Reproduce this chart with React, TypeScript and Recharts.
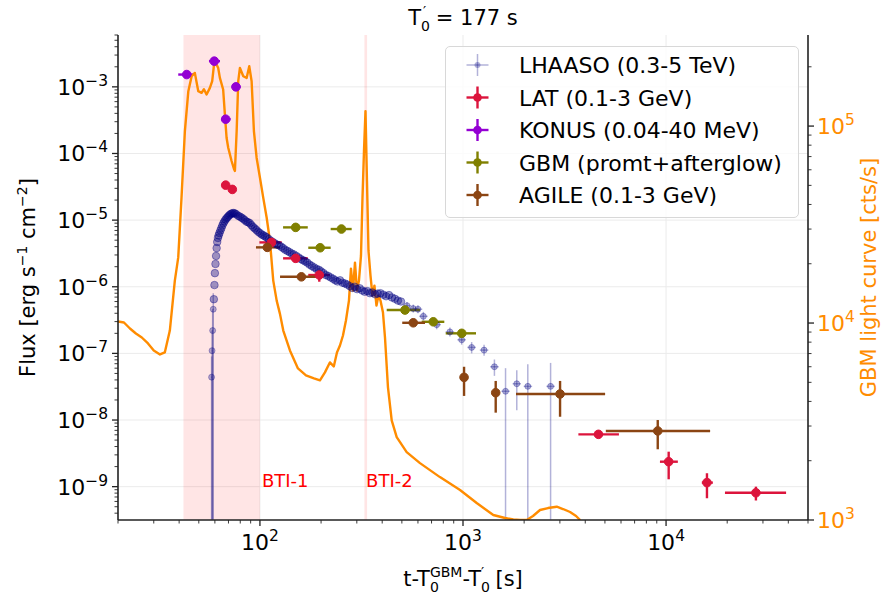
import React from 'react';
import {
  ComposedChart,
  Scatter,
  Line,
  XAxis,
  YAxis,
  ErrorBar,
  ReferenceArea,
  CartesianGrid,
  Legend,
} from 'recharts';

const FONT = "'DejaVu Sans', 'Liberation Sans', sans-serif";
const ORANGE = '#ff8c00';
const NAVY = '#000080';
const C_LAT = '#dc143c';
const C_KONUS = '#9400d3';
const C_GBM = '#808000';
const C_AGILE = '#8b4513';
const SPINE = '#222';

// lower flux bound used for bins whose lower error is unconstrained (bottom of the axis)
const NO_LOWER = 3.2e-10;

// ---------- LHAASO (0.3-5 TeV) ----------
// densely sampled bins (error bars smaller than the markers)
const lhaasoDenseT = [
  59.3, 59.7, 60.0, 60.4, 60.8, 61.2, 61.6, 62.1, 62.6, 63.2, 63.9, 64.6, 65.3, 66.1, 66.9, 67.7,
  68.6, 69.5, 70.4, 71.3, 72.3, 73.3, 74.3, 75.3, 76.5, 78.1, 79.6, 81.1, 82.6, 84.2, 85.8, 87.4,
  89.1, 90.8, 92.5, 94.3, 96.1, 98.0, 100, 102, 104, 106, 108, 110.5, 113, 115.5, 118, 121, 124,
  127, 130, 133, 136.5, 140, 143.5, 147, 151, 155, 159, 163, 167, 171, 175.5, 180, 185, 190, 195,
  200, 205.5, 211, 217, 223, 229, 235, 241, 248, 255, 262, 269, 277, 285, 293, 301, 310, 319, 328,
  338, 348, 358, 369, 380, 392, 405, 418, 432, 447, 462, 478, 495,
];
const lhaasoDenseF = [
  6.5e-7, 1.06e-6, 1.6e-6, 2.2e-6, 2.9e-6, 3.8e-6, 4.7e-6, 5.4e-6, 5.9e-6, 6.4e-6, 7.0e-6, 7.6e-6,
  8.3e-6, 9.0e-6, 9.6e-6, 1.02e-5, 1.07e-5, 1.12e-5, 1.17e-5, 1.21e-5, 1.25e-5, 1.27e-5, 1.28e-5,
  1.26e-5, 1.22e-5, 1.16e-5, 1.13e-5, 1.09e-5, 1.05e-5, 1.0e-5, 9.5e-6, 9.3e-6, 9.0e-6, 8.4e-6,
  7.9e-6, 7.5e-6, 7.1e-6, 6.7e-6, 6.4e-6, 6.1e-6, 5.9e-6, 5.7e-6, 5.5e-6, 5.2e-6, 4.9e-6, 4.7e-6,
  4.5e-6, 4.3e-6, 4.2e-6, 4.0e-6, 3.8e-6, 3.6e-6, 3.45e-6, 3.3e-6, 3.15e-6, 3.05e-6, 2.9e-6,
  2.75e-6, 2.6e-6, 2.5e-6, 2.4e-6, 2.3e-6, 2.15e-6, 2.05e-6, 1.95e-6, 1.85e-6, 1.8e-6, 1.7e-6,
  1.6e-6, 1.5e-6, 1.45e-6, 1.38e-6, 1.32e-6, 1.25e-6, 1.2e-6, 1.25e-6, 1.15e-6, 1.12e-6, 1.08e-6,
  1.02e-6, 9.6e-7, 1.0e-6, 9.2e-7, 9.5e-7, 8.8e-7, 8.4e-7, 8.6e-7, 8.0e-7, 8.2e-7, 7.7e-7, 7.9e-7,
  8.0e-7, 7.6e-7, 7.2e-7, 7.5e-7, 6.9e-7, 6.6e-7, 6.2e-7, 6.0e-7,
];
// bins with visible error bars
const lhaasoT = [57.8, 58.1, 58.5, 58.9, 530, 569, 600, 638, 742, 862, 985, 1103, 1270, 1428, 1620, 1840, 2085, 2700];
const lhaasoF = [4.4e-8, 1.1e-7, 2.2e-7, 4.6e-7, 5.2e-7, 4.7e-7, 4.6e-7, 3.6e-7, 2.7e-7, 2.1e-7, 1.6e-7, 1.23e-7, 1.12e-7, 6.3e-8, 2.7e-8, 3.5e-8, 3.2e-8, 3.2e-8];
const lhaasoFLo = [NO_LOWER, NO_LOWER, NO_LOWER, NO_LOWER, 4.6e-7, 4.1e-7, 4.0e-7, 3.1e-7, 2.3e-7, 1.8e-7, 1.35e-7, 1.0e-7, 9.2e-8, 4.6e-8, NO_LOWER, 1.4e-8, NO_LOWER, NO_LOWER];
const lhaasoFHi = [9e-8, 2.2e-7, 4.6e-7, 8e-7, 5.9e-7, 5.4e-7, 5.3e-7, 4.2e-7, 3.1e-7, 2.45e-7, 1.9e-7, 1.48e-7, 1.35e-7, 8.1e-8, 6e-8, 5.6e-8, 6.9e-8, 7.2e-8];
const lhaasoTLo = [57.6, 57.9, 58.3, 58.7, 505, 542, 572, 608, 707, 821, 938, 1050, 1210, 1360, 1545, 1755, 1990, 2575];
const lhaasoTHi = [58.0, 58.3, 58.7, 59.1, 556, 597, 630, 670, 779, 905, 1034, 1158, 1333, 1500, 1700, 1930, 2190, 2835];

// ---------- Fermi-LAT (0.1-3 GeV) ----------
const latT = [67.8, 73.1, 114, 150, 196, 4645, 10300, 15900, 27700];
const latF = [3.35e-5, 2.89e-5, 4.63e-6, 2.67e-6, 1.5e-6, 6.1e-9, 2.37e-9, 1.15e-9, 8.1e-10];
const latTLo = [67.8, 73.1, 99.4, 130, 173, 3700, 9330, 15000, 19500];
const latTHi = [67.8, 73.1, 128, 172, 221, 5860, 11430, 17000, 39000];
const latFLo = [3.15e-5, 2.72e-5, 4.3e-6, 2.45e-6, 1.19e-6, 5.6e-9, 1.29e-9, 6.7e-10, 6.2e-10];
const latFHi = [3.55e-5, 3.05e-5, 5.0e-6, 2.9e-6, 1.8e-6, 6.6e-9, 3.35e-9, 1.59e-9, 1.0e-9];

// ---------- Konus-Wind (0.04-40 MeV) ----------
const konusT = [43.6, 59.6, 67.8, 76.2];
const konusF = [1.53e-3, 2.43e-3, 3.27e-4, 1.0e-3];
const konusTLo = [39.6, 56.1, 64.3, 72.6];
const konusTHi = [46.9, 63.6, 71.7, 80.4];
const konusFLo = [1.4e-3, 2.2e-3, 2.95e-4, 0.91e-3];
const konusFHi = [1.67e-3, 2.65e-3, 3.6e-4, 1.1e-3];

// ---------- GBM (prompt + afterglow) ----------
const gbmT = [150, 198, 252, 518, 714, 986];
const gbmF = [7.78e-6, 3.85e-6, 7.35e-6, 4.47e-7, 2.98e-7, 2.0e-7];
const gbmTLo = [130, 173, 223, 421, 626, 822];
const gbmTHi = [172, 223, 283, 614, 809, 1159];
const gbmFLo = [7.4e-6, 3.65e-6, 7.0e-6, 4.25e-7, 2.83e-7, 1.9e-7];
const gbmFHi = [8.2e-6, 4.05e-6, 7.7e-6, 4.7e-7, 3.13e-7, 2.1e-7];

// ---------- AGILE (0.1-3 GeV) ----------
const agileT = [108.7, 160, 569, 1012, 1449, 3006, 9100];
const agileF = [3.9e-6, 1.41e-6, 2.88e-7, 4.37e-8, 2.57e-8, 2.46e-8, 6.86e-9];
const agileTLo = [95.6, 125.6, 502, 1000, 1440, 1824, 5050];
const agileTHi = [125.6, 205, 650, 1024, 1460, 5010, 16480];
const agileFLo = [3.7e-6, 1.35e-6, 2.7e-7, 2.3e-8, 1.29e-8, 1.12e-8, 3.64e-9];
const agileFHi = [4.1e-6, 1.48e-6, 3.05e-7, 6.3e-8, 3.86e-8, 3.86e-8, 1.0e-8];

// ---------- GBM light curve (right axis, cts/s) ----------
const lcT = [
  20.0, 21.4, 22.9, 24.5, 26.2, 28.1, 30.0, 32.2, 34.0, 36.0, 38.1, 39.6, 41.1, 42.7, 44.4, 46.1,
  47.8, 49.7, 51.6, 53.0, 54.6, 56.7, 58.2, 59.3, 60.7, 62.3, 63.5, 65.9, 67.2, 68.5, 69.8, 72.5,
  74.5, 75.3, 76.8, 78.2, 79.7, 82.8, 86.0, 88.6, 91.0, 93.4, 96.3, 100, 103.8, 107.9, 112.0, 116.3,
  120.9, 125.5, 130.3, 140.5, 153.9, 168.5, 184.5, 197.5, 209, 221, 231, 239.5, 247.8, 256.4, 265.2,
  274.4, 280.7, 287.2, 293.8, 300.5, 307.4, 314.5, 319.9, 325.4, 331, 336.6, 342.4, 350.3, 358.3,
  366.4, 374.9, 383.5, 392.3, 403.6, 412.9, 427.1, 445.5, 471.5, 528, 614, 770, 967, 1168, 1410,
  1610, 1770, 1910, 2060, 2212, 2395, 2622, 2894, 3108, 3366, 3604, 3772,
];
const lcC = [
  10180, 10060, 9380, 8850, 8445, 7875, 7260, 6925, 7090, 9160, 16420, 21540, 43350, 94340, 150400,
  179100, 186200, 150400, 147500, 153900, 144700, 156300, 169000, 201300, 209200, 197300, 175600,
  153400, 114600, 87280, 77660, 66500, 60580, 59180, 94340, 169000, 197300, 179100, 175600, 201300,
  169000, 94340, 69100, 54720, 43350, 34330, 26160, 16420, 13000, 11130, 9160, 7260, 5885, 5423,
  5236, 5116, 5617, 6310, 6022, 7090, 7693, 8647, 10300, 13000, 18880, 14610, 20250, 14610, 16420,
  21970, 42960, 74700, 119100, 52660, 23290, 17400, 13780, 15490, 12260, 13780, 13000, 11300, 8445,
  4715, 3208, 2633, 2210, 1944, 1651, 1419, 1219, 1060, 1024, 1006, 1000, 1000, 1048, 1124, 1150,
  1168, 1137, 1098, 1048, 1000,
];

// Bad time intervals (s)
const BTI1 = [42, 100];
const BTI2 = [327, 337];

// Axis ranges
const X_DOMAIN = [20, 50000];
const FLUX_DOMAIN = [3.16e-10, 6e-3];
const RATE_DOMAIN = [1000, 2.9e5];

function expOf(v: number) {
  return Math.round(Math.log10(v));
}
function isMajor(v: number) {
  return Math.abs(Math.log10(v) - expOf(v)) < 1e-6;
}
const supText = (e: number) => (e < 0 ? '\u2212' + Math.abs(e) : String(e));

const logTicks = (lo: number, hi: number) => {
  const out: number[] = [];
  for (let e = Math.floor(Math.log10(lo)); e <= Math.ceil(Math.log10(hi)); e++) {
    for (let m = 1; m <= 9; m++) {
      const v = m * Math.pow(10, e);
      if (v >= lo * 0.999 && v <= hi * 1.001) out.push(v);
    }
  }
  return out;
};
const xTicks = logTicks(X_DOMAIN[0], X_DOMAIN[1]);
const fluxTicks = logTicks(FLUX_DOMAIN[0], FLUX_DOMAIN[1]);
const rateTicks = logTicks(RATE_DOMAIN[0], RATE_DOMAIN[1]);
const fluxGrid = fluxTicks.filter((v) => isMajor(v));
const xGrid = xTicks.filter((v) => isMajor(v));

const withErrors = (t: number[], f: number[], tLo: number[], tHi: number[], fLo: number[], fHi: number[]) =>
  t.map((tv, i) => ({
    t: tv,
    f: f[i],
    ex: [tv - tLo[i], tHi[i] - tv],
    ey: [f[i] - fLo[i], fHi[i] - f[i]],
  }));

const lhaasoDense = lhaasoDenseT.map((t, i) => ({ t, f: lhaasoDenseF[i] }));
const lhaasoErr = withErrors(lhaasoT, lhaasoF, lhaasoTLo, lhaasoTHi, lhaasoFLo, lhaasoFHi);
const latData = withErrors(latT, latF, latTLo, latTHi, latFLo, latFHi);
const konusData = withErrors(konusT, konusF, konusTLo, konusTHi, konusFLo, konusFHi);
const gbmData = withErrors(gbmT, gbmF, gbmTLo, gbmTHi, gbmFLo, gbmFHi);
const agileData = withErrors(agileT, agileF, agileTLo, agileTHi, agileFLo, agileFHi);
const lcData = lcT.map((t, i) => ({ t, c: lcC[i] }));

const makeDot = (r: number, color: string, opacity = 1) => (p: any) => (
  <circle
    cx={p.cx}
    cy={p.cy}
    r={r}
    fill={color}
    fillOpacity={opacity}
    stroke={color}
    strokeOpacity={opacity}
    strokeWidth={1}
  />
);

// ---------- ticks ----------
const TICK_FS = 22;
const SUP_FS = 15.5;

const BottomTick = (props: any) => {
  const { x, y, payload } = props;
  const v = payload.value;
  const major = isMajor(v);
  return (
    <g>
      <line x1={x} x2={x} y1={y} y2={y + (major ? 6 : 3.5)} stroke={SPINE} strokeWidth={major ? 1.3 : 0.9} />
      {major && (
        <text x={x} y={y + 30} textAnchor="middle" fontSize={TICK_FS} fontFamily={FONT} fill="#000">
          10
          <tspan dy={-9} fontSize={SUP_FS}>
            {supText(expOf(v))}
          </tspan>
        </text>
      )}
    </g>
  );
};

const LeftTick = (props: any) => {
  const { x, y, payload } = props;
  const v = payload.value;
  const major = isMajor(v);
  return (
    <g>
      <line x1={x - (major ? 6 : 3.5)} x2={x} y1={y} y2={y} stroke={SPINE} strokeWidth={major ? 1.3 : 0.9} />
      {major && (
        <text x={x - 10} y={y + 8} textAnchor="end" fontSize={TICK_FS} fontFamily={FONT} fill="#000">
          10
          <tspan dy={-9} fontSize={SUP_FS}>
            {supText(expOf(v))}
          </tspan>
        </text>
      )}
    </g>
  );
};

const RightTick = (props: any) => {
  const { x, y, payload } = props;
  const v = payload.value;
  const major = isMajor(v);
  return (
    <g>
      <line x1={x} x2={x + (major ? 6 : 3.5)} y1={y} y2={y} stroke={SPINE} strokeWidth={major ? 1.3 : 0.9} />
      {major && (
        <text x={x + 9} y={y + 8} textAnchor="start" fontSize={TICK_FS} fontFamily={FONT} fill={ORANGE}>
          10
          <tspan dy={-9} fontSize={SUP_FS}>
            {supText(expOf(v))}
          </tspan>
        </text>
      )}
    </g>
  );
};

// ---------- axis titles ----------
const LABEL_FS = 21;
const SMALL_FS = 14;

const XTitle = (props: any) => {
  const vb = props.viewBox;
  if (!vb) return null;
  const cx = vb.x + vb.width / 2;
  const by = vb.y + 66;
  return (
    <text x={cx} y={by} textAnchor="middle" fontSize={LABEL_FS} fontFamily={FONT} fill="#000">
      t-T
      <tspan dy={-9} fontSize={SMALL_FS}>GBM</tspan>
      <tspan dx={-32.5} dy={15} fontSize={SMALL_FS}>0</tspan>
      <tspan dx={23.6} dy={-6}>-T</tspan>
      <tspan dy={6} fontSize={SMALL_FS}>0</tspan>
      <tspan dx={-8.9} dy={-15} fontSize={SMALL_FS}>{'\u2032'}</tspan>
      <tspan dx={4.6} dy={9}>{' [s]'}</tspan>
    </text>
  );
};

const LeftTitle = (props: any) => {
  const vb = props.viewBox;
  if (!vb) return null;
  const bx = vb.x + 35;
  const cy = vb.y + vb.height / 2;
  return (
    <text
      x={bx}
      y={cy}
      transform={`rotate(-90 ${bx} ${cy})`}
      textAnchor="middle"
      fontSize={LABEL_FS}
      fontFamily={FONT}
      fill="#000"
    >
      Flux [erg s
      <tspan dy={-8} fontSize={SMALL_FS}>{'\u22121'}</tspan>
      <tspan dy={8}> cm</tspan>
      <tspan dy={-8} fontSize={SMALL_FS}>{'\u22122'}</tspan>
      <tspan dy={8}>]</tspan>
    </text>
  );
};

const RightTitle = (props: any) => {
  const vb = props.viewBox;
  if (!vb) return null;
  const bx = vb.x + 68;
  const cy = vb.y + vb.height / 2;
  return (
    <text
      x={bx}
      y={cy}
      transform={`rotate(-90 ${bx} ${cy})`}
      textAnchor="middle"
      fontSize={LABEL_FS}
      fontFamily={FONT}
      fill={ORANGE}
    >
      GBM light curve [cts/s]
    </text>
  );
};

const BtiLabel = (props: any) => {
  const { viewBox, text, dx = 2 } = props;
  if (!viewBox) return null;
  return (
    <text
      x={viewBox.x + viewBox.width + dx}
      y={viewBox.y + viewBox.height - 33}
      fill="#ff0000"
      fontSize={18}
      fontFamily={FONT}
    >
      {text}
    </text>
  );
};

// ---------- legend ----------
const legendItems = [
  { name: 'LHAASO (0.3-5 TeV)', color: NAVY, alpha: 0.3, r: 3, lw: 1.5 },
  { name: 'LAT (0.1-3 GeV)', color: C_LAT, alpha: 1, r: 4.3, lw: 2.4 },
  { name: 'KONUS (0.04-40 MeV)', color: C_KONUS, alpha: 1, r: 4.3, lw: 2.4 },
  { name: 'GBM (promt+afterglow)', color: C_GBM, alpha: 1, r: 4.3, lw: 2.4 },
  { name: 'AGILE (0.1-3 GeV)', color: C_AGILE, alpha: 1, r: 4.3, lw: 2.4 },
];

const LegendBox = () => (
  <div
    style={{
      width: 354,
      height: 172,
      boxSizing: 'border-box',
      border: '1px solid #d8d8d8',
      borderRadius: 5,
      background: 'rgba(255,255,255,0.8)',
    }}
  >
    <svg width={352} height={170} style={{ display: 'block' }}>
      {legendItems.map((it, i) => {
        const cy = 18 + i * 32.5;
        const cx = 31.5;
        return (
          <g key={it.name}>
            <line x1={cx - 11} x2={cx + 11} y1={cy} y2={cy} stroke={it.color} strokeOpacity={it.alpha} strokeWidth={it.lw} />
            <line x1={cx} x2={cx} y1={cy - 11} y2={cy + 11} stroke={it.color} strokeOpacity={it.alpha} strokeWidth={it.lw} />
            <circle cx={cx} cy={cy} r={it.r} fill={it.color} fillOpacity={it.alpha} />
            <text x={73} y={cy + 8} fontSize={22} fontFamily={FONT} fill="#000">
              {it.name}
            </text>
          </g>
        );
      })}
    </svg>
  </div>
);

const spineLine = { stroke: SPINE, strokeWidth: 1.6 };

export default function App() {
  return (
    <div
      style={{
        position: 'absolute',
        left: 0,
        top: 0,
        width: 883,
        height: 599,
        background: '#fff',
        fontFamily: FONT,
      }}
    >
      <ComposedChart width={883} height={599} margin={{ top: 35, right: 0, bottom: 0, left: 0 }}>
        <XAxis
          type="number"
          dataKey="t"
          scale="log"
          domain={X_DOMAIN}
          allowDataOverflow
          ticks={xTicks}
          interval={0}
          tick={BottomTick}
          tickLine={false}
          axisLine={spineLine}
          tickSize={0}
          tickMargin={0}
          height={79}
          label={XTitle}
        />
        {/* top spine */}
        <XAxis
          xAxisId="top"
          orientation="top"
          type="number"
          scale="log"
          domain={X_DOMAIN}
          allowDataOverflow
          tick={false}
          tickLine={false}
          axisLine={spineLine}
          height={0}
        />
        <YAxis
          yAxisId="left"
          orientation="left"
          type="number"
          dataKey="f"
          scale="log"
          domain={FLUX_DOMAIN}
          allowDataOverflow
          ticks={fluxTicks}
          interval={0}
          tick={LeftTick}
          tickLine={false}
          axisLine={spineLine}
          tickSize={0}
          tickMargin={0}
          width={118}
          label={LeftTitle}
        />
        <YAxis
          yAxisId="right"
          orientation="right"
          type="number"
          dataKey="c"
          scale="log"
          domain={RATE_DOMAIN}
          allowDataOverflow
          ticks={rateTicks}
          interval={0}
          tick={RightTick}
          tickLine={false}
          axisLine={spineLine}
          tickSize={0}
          tickMargin={0}
          width={75}
          label={RightTitle}
        />

        <CartesianGrid
          yAxisId="left"
          horizontalValues={fluxGrid}
          verticalValues={xGrid}
          stroke="#ebebeb"
          strokeWidth={1}
        />

        <ReferenceArea
          yAxisId="left"
          x1={BTI1[0]}
          x2={BTI1[1]}
          fill="#ff0000"
          fillOpacity={0.1}
          stroke="none"
          label={<BtiLabel text="BTI-1" dx={2} />}
        />
        <ReferenceArea
          yAxisId="left"
          x1={BTI2[0]}
          x2={BTI2[1]}
          fill="#ff0000"
          fillOpacity={0.1}
          stroke="none"
          label={<BtiLabel text="BTI-2" dx={-1} />}
        />

        <Scatter
          name="LHAASO (0.3-5 TeV)"
          data={lhaasoDense}
          yAxisId="left"
          shape={makeDot(3.8, NAVY, 0.38)}
          isAnimationActive={false}
        />
        <Scatter
          name="LHAASO bins"
          data={lhaasoErr}
          yAxisId="left"
          shape={makeDot(3, NAVY, 0.3)}
          isAnimationActive={false}
        >
          <ErrorBar dataKey="ex" direction="x" width={0} stroke={NAVY} strokeOpacity={0.3} strokeWidth={1.5} />
          <ErrorBar dataKey="ey" direction="y" width={0} stroke={NAVY} strokeOpacity={0.3} strokeWidth={1.5} />
        </Scatter>

        <Scatter name="LAT (0.1-3 GeV)" data={latData} yAxisId="left" shape={makeDot(4.3, C_LAT)} isAnimationActive={false}>
          <ErrorBar dataKey="ex" direction="x" width={0} stroke={C_LAT} strokeWidth={2.4} />
          <ErrorBar dataKey="ey" direction="y" width={0} stroke={C_LAT} strokeWidth={2.4} />
        </Scatter>
        <Scatter name="KONUS (0.04-40 MeV)" data={konusData} yAxisId="left" shape={makeDot(4.3, C_KONUS)} isAnimationActive={false}>
          <ErrorBar dataKey="ex" direction="x" width={0} stroke={C_KONUS} strokeWidth={2.4} />
          <ErrorBar dataKey="ey" direction="y" width={0} stroke={C_KONUS} strokeWidth={2.4} />
        </Scatter>
        <Scatter name="GBM (promt+afterglow)" data={gbmData} yAxisId="left" shape={makeDot(4.3, C_GBM)} isAnimationActive={false}>
          <ErrorBar dataKey="ex" direction="x" width={0} stroke={C_GBM} strokeWidth={2.4} />
          <ErrorBar dataKey="ey" direction="y" width={0} stroke={C_GBM} strokeWidth={2.4} />
        </Scatter>
        <Scatter name="AGILE (0.1-3 GeV)" data={agileData} yAxisId="left" shape={makeDot(4.3, C_AGILE)} isAnimationActive={false}>
          <ErrorBar dataKey="ex" direction="x" width={0} stroke={C_AGILE} strokeWidth={2.4} />
          <ErrorBar dataKey="ey" direction="y" width={0} stroke={C_AGILE} strokeWidth={2.4} />
        </Scatter>

        <Line
          data={lcData}
          dataKey="c"
          yAxisId="right"
          type="linear"
          stroke={ORANGE}
          strokeWidth={2.4}
          strokeLinejoin="round"
          dot={false}
          activeDot={false}
          isAnimationActive={false}
        />

        <Legend
          content={LegendBox}
          layout="vertical"
          align="center"
          verticalAlign="middle"
          wrapperStyle={{ left: 445, top: 46, width: 354, height: 172 }}
        />
      </ComposedChart>

      <svg
        width={883}
        height={40}
        style={{ position: 'absolute', left: 0, top: 0, pointerEvents: 'none' }}
      >
        <text x={463} y={25} textAnchor="middle" fontSize={21} fontFamily={FONT} fill="#000">
          T
          <tspan dy={6} fontSize={SMALL_FS}>0</tspan>
          <tspan dx={-7} dy={-15} fontSize={SMALL_FS}>{'\u2032'}</tspan>
          <tspan dx={3} dy={9}>{' = 177 s'}</tspan>
        </text>
      </svg>
    </div>
  );
}
